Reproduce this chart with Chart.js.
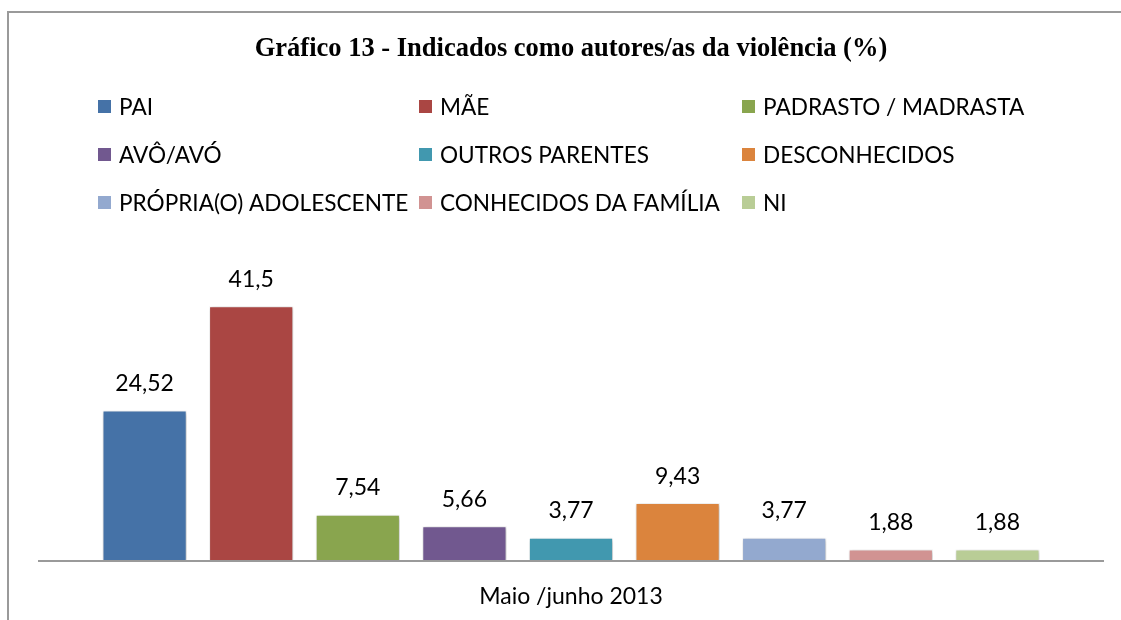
<!DOCTYPE html>
<html><head><meta charset="utf-8">
<script src="https://cdn.jsdelivr.net/npm/chart.js@4.4.1/dist/chart.umd.min.js"></script>
<style>html,body{margin:0;padding:0;background:#fff;overflow:hidden}#wrap{width:1121px;height:620px;position:relative}</style>
</head><body><div id="wrap"><canvas id="c" width="1121" height="620"></canvas></div>
<script>
const categories = ['Maio /junho 2013'];
const seriesNames = ['PAI', 'MÃE', 'PADRASTO / MADRASTA', 'AVÔ/AVÓ', 'OUTROS PARENTES', 'DESCONHECIDOS', 'PRÓPRIA(O) ADOLESCENTE', 'CONHECIDOS DA FAMÍLIA', 'NI'];
const seriesValues = [24.52, 41.5, 7.54, 5.66, 3.77, 9.43, 3.77, 1.88, 1.88];
const seriesColors = ['#4572A7', '#AA4643', '#89A54E', '#71588F', '#4198AF', '#DB843D', '#93A9CF', '#D19392', '#B9CD96'];
const titleText = 'Gráfico 13 - Indicados como autores/as da violência (%)';

const FONT = 'Lato, "Open Sans", sans-serif';
const fmt = v => String(v).replace('.', ',');

const frame = {
  id: 'frame',
  beforeDraw(chart) {
    const ctx = chart.ctx;
    ctx.save();
    ctx.strokeStyle = '#9a9a9a';
    ctx.lineWidth = 2;
    ctx.beginPath();
    ctx.moveTo(8, chart.height + 5);
    ctx.lineTo(8, 12);
    ctx.lineTo(chart.width + 5, 12);
    ctx.stroke();
    ctx.restore();
  }
};

const axisLine = {
  id: 'axisLine',
  afterDatasetsDraw(chart) {
    const ctx = chart.ctx;
    const a = chart.chartArea;
    const y0 = chart.scales.y.getPixelForValue(0);
    ctx.save();
    ctx.strokeStyle = '#9a9a9a';
    ctx.lineWidth = 2;
    ctx.beginPath();
    ctx.moveTo(a.left, y0);
    ctx.lineTo(a.right, y0);
    ctx.stroke();
    ctx.restore();
  }
};

const shadow = {
  id: 'shadow',
  beforeDatasetsDraw(chart) {
    const ctx = chart.ctx;
    ctx.save();
    ctx.shadowColor = 'rgba(0,0,0,0.28)';
    ctx.shadowBlur = 4;
    ctx.shadowOffsetX = 1;
    ctx.shadowOffsetY = 1;
  },
  afterDatasetsDraw(chart) {
    chart.ctx.restore();
  }
};

const valueLabels = {
  id: 'valueLabels',
  afterDatasetsDraw(chart) {
    const ctx = chart.ctx;
    ctx.save();
    ctx.font = '23px ' + FONT;
    ctx.fillStyle = '#000';
    ctx.textAlign = 'center';
    ctx.textBaseline = 'middle';
    chart.data.datasets.forEach((ds, i) => {
      const meta = chart.getDatasetMeta(i);
      meta.data.forEach((el, j) => {
        ctx.fillText(fmt(ds.data[j]), el.x, el.y - 27);
      });
    });
    ctx.restore();
  }
};

const gridLegend = {
  id: 'gridLegend',
  afterDraw(chart) {
    const ctx = chart.ctx;
    const cols = [98, 419, 742];
    const rows = [107, 155, 203];
    ctx.save();
    ctx.font = '22.6px ' + FONT;
    ctx.textBaseline = 'middle';
    ctx.textAlign = 'left';
    chart.data.datasets.forEach((ds, i) => {
      const x = cols[i % 3], y = rows[Math.floor(i / 3)];
      ctx.fillStyle = ds.backgroundColor;
      ctx.fillRect(x, y - 7, 13, 13);
      ctx.fillStyle = '#000';
      ctx.fillText(ds.label, x + 21, y + 1);
    });
    ctx.restore();
  }
};

const datasets = seriesNames.map((name, i) => ({
  label: name,
  data: [seriesValues[i]],
  backgroundColor: seriesColors[i],
  borderColor: '#ffffff',
  borderWidth: 1,
  categoryPercentage: 0.9,
  barPercentage: 0.79
}));

new Chart(document.getElementById('c'), {
  type: 'bar',
  data: { labels: categories, datasets },
  options: {
    responsive: false,
    animation: false,
    devicePixelRatio: 1,
    layout: { padding: { left: 38, right: 17, top: 0, bottom: 0 } },
    plugins: {
      legend: { display: false },
      tooltip: { enabled: false },
      title: {
        display: true,
        text: titleText,
        color: '#000',
        font: { family: '"Liberation Serif", "Times New Roman", serif', size: 26.5, weight: 'bold', lineHeight: 1.2 },
        padding: { top: 33, bottom: 220 }
      }
    },
    scales: {
      x: {
        grid: { display: false, drawTicks: false },
        border: { display: false },
        ticks: { color: '#000', font: { family: FONT, size: 23 }, padding: 22 },
        afterFit(scale) { scale.height = 59; }
      },
      y: {
        display: false,
        min: 0,
        max: 45
      }
    }
  },
  plugins: [frame, shadow, axisLine, valueLabels, gridLegend]
});
</script>
</body></html>
